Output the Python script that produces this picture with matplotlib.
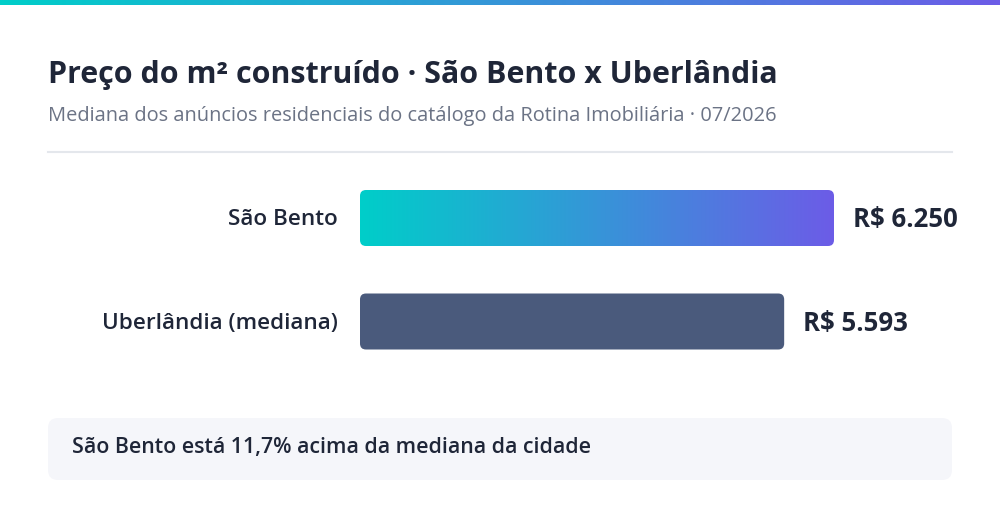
import numpy as np
import matplotlib.pyplot as plt
from matplotlib import font_manager as fm
from matplotlib.patches import FancyBboxPatch
from matplotlib.colors import LinearSegmentedColormap

# data
categories = ["São Bento", "Uberlândia (mediana)"]
values = [6250, 5593]
value_labels = ["R$ 6.250", "R$ 5.593"]
title = "Preço do m² construído · São Bento x Uberlândia"
subtitle = "Mediana dos anúncios residenciais do catálogo da Rotina Imobiliária · 07/2026"
note = "São Bento está 11,7% acima da mediana da cidade"

TEAL = "#00cec9"
PURPLE = "#6c5ce7"
SLATE = "#4a5a7c"
DARK = "#1f2638"
GRAY = "#6b7385"


def weights_of(fam):
    out = set()
    for f in fm.fontManager.ttflist:
        if f.name == fam:
            w = f.weight
            if isinstance(w, str):
                w = fm.weight_dict.get(w, 400)
            out.add(int(w))
    return out


# pick a humanist sans that really ships a bold face
family = "DejaVu Sans"
for cand in ["Open Sans", "Noto Sans", "Lato", "Inter", "Roboto", "Liberation Sans"]:
    ws = weights_of(cand)
    if ws and max(ws) >= 700:
        family = cand
        break
ws = weights_of(family)
semi = 600 if 600 in ws else (500 if 500 in ws else 400)

plt.rcParams["font.family"] = [family, "DejaVu Sans"]

W, H = 1000, 520
fig = plt.figure(figsize=(W / 100, H / 100), dpi=100)
fig.patch.set_facecolor("white")

grad = LinearSegmentedColormap.from_list("brand", [TEAL, PURPLE])
ramp = np.linspace(0, 1, 256).reshape(1, -1)

# top accent strip
strip = fig.add_axes([0, 1 - 5 / H, 1, 5 / H])
strip.imshow(ramp, aspect="auto", cmap=grad, extent=[0, 1, 0, 1])
strip.set_axis_off()


def px(x, y):
    return x / W, 1 - y / H


fig.text(*px(48, 83), title, fontsize=21.9, fontweight="bold", color=DARK,
         va="baseline", ha="left")
fig.text(*px(48, 121), subtitle, fontsize=14.4, color=GRAY,
         va="baseline", ha="left")
fig.add_artist(plt.Line2D([48 / W, 952 / W], [1 - 152 / H] * 2,
                          color="#e4e7ec", lw=1.5))

# bar axes: x=0 at px 360, max at px 834; one category step = 103.5 px
ax_l, ax_w = 360, 592
ax_t, ax_hpx = 160, 220
step = 103.5
ax = fig.add_axes([ax_l / W, 1 - (ax_t + ax_hpx) / H, ax_w / W, ax_hpx / H])
xmax = max(values) * ax_w / 474
y_top = -(218 - ax_t) / step
ax.set_xlim(0, xmax)
ax.set_ylim(y_top + ax_hpx / step, y_top)
ax.set_axis_off()

bar_h = 56 / step
xu = xmax / ax_w          # data x per pixel
yu = 1 / step             # data y per pixel
radius_px = 6
for i, (cat, v, lab) in enumerate(zip(categories, values, value_labels)):
    patch = FancyBboxPatch((0, i - bar_h / 2), v, bar_h,
                           boxstyle=f"round,pad=0,rounding_size={radius_px * xu}",
                           mutation_aspect=yu / xu,
                           linewidth=0, facecolor=SLATE if i else "none")
    ax.add_patch(patch)
    if i == 0:
        im = ax.imshow(ramp, aspect="auto", cmap=grad,
                       extent=[0, v, i + bar_h / 2, i - bar_h / 2], zorder=2)
        im.set_clip_path(patch)
    ax.text(-22 * xu, i + 1.5 * yu, cat, ha="right", va="center",
            fontsize=16.2, fontweight=semi, color=DARK)
    ax.text(v + 19 * xu, i + 1.5 * yu, lab, ha="left", va="center",
            fontsize=18.5, fontweight="bold", color=DARK)
ax.set_xlim(0, xmax)
ax.set_ylim(y_top + ax_hpx / step, y_top)

# note box
box = FancyBboxPatch((48 / W, 1 - 480 / H), 904 / W, 62 / H,
                     boxstyle="round,pad=0,rounding_size=0.01",
                     mutation_aspect=W / H, transform=fig.transFigure,
                     facecolor="#f5f6fa", edgecolor="none")
fig.add_artist(box)
fig.text(*px(72, 448), note, fontsize=15.4, fontweight=semi, color=DARK,
         va="center", ha="left")

fig.savefig("out.png", dpi=100, facecolor="white")
